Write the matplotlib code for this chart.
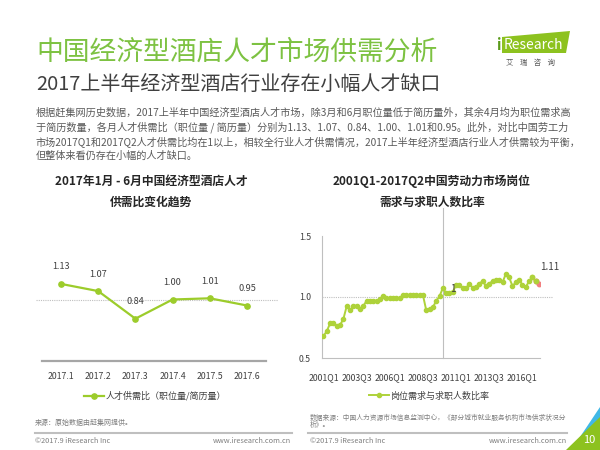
import matplotlib
matplotlib.use("Agg")
import matplotlib.pyplot as plt
from matplotlib.patches import Polygon

plt.rcParams['font.family'] = ['Noto Sans CJK SC', 'DejaVu Sans']

# left chart: monthly supply/demand ratio, 2017 H1
months = ['2017.1', '2017.2', '2017.3', '2017.4', '2017.5', '2017.6']
hotel_ratio = [1.13, 1.07, 0.84, 1.00, 1.01, 0.95]

# right chart: quarterly job-seeker ratio 2001Q1 - 2017Q2
quarter_ticks = ['2001Q1', '2003Q3', '2006Q1', '2008Q3', '2011Q1', '2013Q3', '2016Q1']
labour_ratio = [
    0.68, 0.72, 0.785, 0.785, 0.76, 0.77, 0.82, 0.925, 0.89, 0.925,
    0.93, 0.90, 0.925, 0.97, 0.97, 0.97, 0.97, 0.98, 1.005, 0.99,
    0.99, 0.99, 0.99, 0.99, 1.015, 1.015, 1.015, 1.015, 1.015, 1.015,
    1.015, 0.89, 0.90, 0.915, 0.97, 1.005, 1.075, 1.03, 1.03, 1.04,
    1.10, 1.10, 1.07, 1.07, 1.11, 1.075, 1.08, 1.11, 1.13, 1.09,
    1.11, 1.13, 1.14, 1.14, 1.12, 1.19, 1.16, 1.09, 1.12, 1.14,
    1.10, 1.08, 1.13, 1.16, 1.13, 1.11,
]
n_red = 2  # last two quarters (2017Q1, 2017Q2) drawn in red

GREEN = '#7dc242'
LINE1 = '#9ccc2b'
LINE2 = '#aed23a'
RED = '#f28080'
GREY = '#bfbfbf'


def fx(x):
    return x / 600


def fy(y):
    return 1 - y / 450


fig = plt.figure(figsize=(6, 4.5), dpi=100)

# header
fig.text(fx(36), fy(52), '中国经济型酒店人才市场供需分析', fontsize=19.3, color=GREEN, va='center')
fig.text(fx(36), fy(84), '2017上半年经济型酒店行业存在小幅人才缺口', fontsize=14.4, color='#404040', va='center')

para = [
    '根据赶集网历史数据，2017上半年中国经济型酒店人才市场，除3月和6月职位量低于简历量外，其余4月均为职位需求高',
    '于简历数量，各月人才供需比（职位量 / 简历量）分别为1.13、1.07、0.84、1.00、1.01和0.95。此外，对比中国劳工力',
    '市场2017Q1和2017Q2人才供需比均在1以上，相较全行业人才供需情况，2017上半年经济型酒店行业人才供需较为平衡，',
    '但整体来看仍存在小幅的人才缺口。',
]
for k, line in enumerate(para):
    fig.text(fx(36), fy(112.5 + 14.5 * k), line, fontsize=7.3, color='#595959', va='center')

# logo
fig.patches.append(Polygon([(fx(502), fy(37)), (fx(570), fy(31)), (fx(566), fy(53)), (fx(502), fy(53))],
                           closed=True, transform=fig.transFigure, facecolor='#8dc21f', edgecolor='none'))
fig.text(fx(497), fy(45), 'i', fontsize=10.5, color='#5a9a1a', va='center', fontweight='bold')
fig.text(fx(504), fy(45), 'Research', fontsize=10, color='white', va='center')
fig.text(fx(531), fy(63), '艾    瑞    咨    询', fontsize=5.3, color='#595959', va='center', ha='center')

# chart titles
fig.text(fx(151), fy(181), '2017年1月 - 6月中国经济型酒店人才', fontsize=8.5, fontweight='bold',
         color='#262626', ha='center', va='center')
fig.text(fx(151), fy(202), '供需比变化趋势', fontsize=8.5, fontweight='bold',
         color='#262626', ha='center', va='center')
fig.text(fx(432), fy(181), '2001Q1-2017Q2中国劳动力市场岗位', fontsize=8.5, fontweight='bold',
         color='#262626', ha='center', va='center')
fig.text(fx(432), fy(202), '需求与求职人数比率', fontsize=8.5, fontweight='bold',
         color='#262626', ha='center', va='center')

# left chart
ax1 = fig.add_axes([fx(42.4), fy(360.7), (265.6 - 42.4) / 600, (360.7 - 239.5) / 450])
xs1 = list(range(len(months)))
ax1.plot(xs1, hotel_ratio, color=LINE1, lw=1.6, marker='o', ms=3.8, zorder=3,
         label='人才供需比（职位量/简历量）')
ax1.plot([-0.67, 5.83], [1, 1], color=GREY, lw=0.8, ls=(0, (1, 1)), clip_on=False, zorder=1)
for x, v in zip(xs1, hotel_ratio):
    ax1.annotate(f'{v:.2f}', (x, v), xytext=(0, 9), textcoords='offset points',
                 ha='center', va='bottom', fontsize=6.6, color='#404040')
ax1.set_xlim(-0.5, 5.5)
ax1.set_ylim(0.49, 1.5)
ax1.set_xticks(xs1)
ax1.set_xticklabels(months, fontsize=6.3, color='#404040')
ax1.set_yticks([])
ax1.tick_params(axis='x', length=0, pad=8)
for s in ['top', 'left', 'right']:
    ax1.spines[s].set_visible(False)
ax1.spines['bottom'].set_color('#a6a6a6')
ax1.spines['bottom'].set_linewidth(1.6)
ax1.patch.set_alpha(0)
ax1.legend(loc='center', bbox_to_anchor=(fx(155), fy(396)), bbox_transform=fig.transFigure,
           frameon=False, fontsize=6.5, handlelength=2.2, handletextpad=0.2, labelcolor='#404040')

# right chart
ax2 = fig.add_axes([fx(322), fy(358), 218 / 600, 122 / 450])
xs2 = list(range(len(labour_ratio)))
ax2.plot(xs2[:-n_red + 1], labour_ratio[:-n_red + 1], color=LINE2, lw=1.4, marker='o', ms=3,
         zorder=3, label='岗位需求与求职人数比率')
ax2.plot(xs2[-n_red - 1:], labour_ratio[-n_red - 1:], color=LINE2, lw=1.4, zorder=3)
ax2.plot(xs2[-n_red:], labour_ratio[-n_red:], color=RED, lw=0, marker='o', ms=3.2, zorder=4)
ax2.plot(xs2[-n_red - 1:-n_red + 1], labour_ratio[-n_red - 1:-n_red + 1], color=LINE2, lw=0,
         marker='o', ms=3, zorder=4)
ax2.plot([-0.45, 69.2], [1, 1], color=GREY, lw=0.8, ls=(0, (1, 1)), clip_on=False, zorder=1)
ax2.plot([36, 36], [0.5, 1.73], color=GREY, lw=0.8, clip_on=False, zorder=1)
ax2.annotate('1', (36, labour_ratio[36]), xytext=(5, -1), textcoords='offset points',
             ha='left', va='center', fontsize=7, color='#404040')
ax2.annotate(f'{labour_ratio[-1]:.2f}', (xs2[-1], labour_ratio[-1]), xytext=(1, 8),
             textcoords='offset points', ha='left', va='bottom', fontsize=7, color='#404040')
ax2.set_xlim(-0.45, 65.3)
ax2.set_ylim(0.5, 1.5)
ax2.set_xticks(range(0, 61, 10))
ax2.set_xticklabels(quarter_ticks, fontsize=6.3, color='#404040')
ax2.set_yticks([0.5, 1.0, 1.5])
ax2.set_yticklabels(['0.5', '1.0', '1.5'], fontsize=6.3, color='#404040')
ax2.tick_params(axis='x', length=0, pad=11)
ax2.tick_params(axis='y', length=0, pad=8)
for s in ['top', 'right']:
    ax2.spines[s].set_visible(False)
for s in ['left', 'bottom']:
    ax2.spines[s].set_color(GREY)
    ax2.spines[s].set_linewidth(0.8)
ax2.patch.set_alpha(0)
ax2.legend(loc='center', bbox_to_anchor=(fx(429), fy(396)), bbox_transform=fig.transFigure,
           frameon=False, fontsize=6.5, handlelength=2.2, handletextpad=0.2, labelcolor='#404040')

# sources and footer
fig.text(fx(35), fy(423), '来源：原始数据由赶集网提供。', fontsize=5, color='#7f7f7f', va='center')
fig.text(fx(310), fy(418), '数据来源：中国人力资源市场信息监测中心，《部分城市就业服务机构市场供求状况分',
         fontsize=4.85, color='#7f7f7f', va='center')
fig.text(fx(310), fy(424.5), '析》。', fontsize=4.85, color='#7f7f7f', va='center')
fig.lines.append(plt.Line2D([fx(35), fx(292)], [fy(433), fy(433)], transform=fig.transFigure,
                            color='#bfbfbf', lw=1.5))
fig.lines.append(plt.Line2D([fx(308), fx(567)], [fy(433), fy(433)], transform=fig.transFigure,
                            color='#bfbfbf', lw=1.5))
fig.text(fx(35), fy(441), '©2017.9 iResearch Inc', fontsize=5.3, color='#7f7f7f', va='center')
fig.text(fx(291), fy(441), 'www.iresearch.com.cn', fontsize=5.3, color='#7f7f7f', va='center', ha='right')
fig.text(fx(310), fy(441), '©2017.9 iResearch Inc', fontsize=5.3, color='#7f7f7f', va='center')
fig.text(fx(567), fy(441), 'www.iresearch.com.cn', fontsize=5.3, color='#7f7f7f', va='center', ha='right')

# corner decoration
fig.patches.append(Polygon([(fx(578), fy(440)), (fx(600), fy(407)), (fx(600), fy(440))],
                           closed=True, transform=fig.transFigure, facecolor='#41b8e6', edgecolor='none'))
fig.patches.append(Polygon([(fx(566), fy(450)), (fx(600), fy(417)), (fx(600), fy(450))],
                           closed=True, transform=fig.transFigure, facecolor='#8dc21f', edgecolor='none'))
fig.text(fx(589), fy(440), '10', fontsize=8, color='white', va='center', ha='center')

fig.savefig('out.png', dpi=100)
